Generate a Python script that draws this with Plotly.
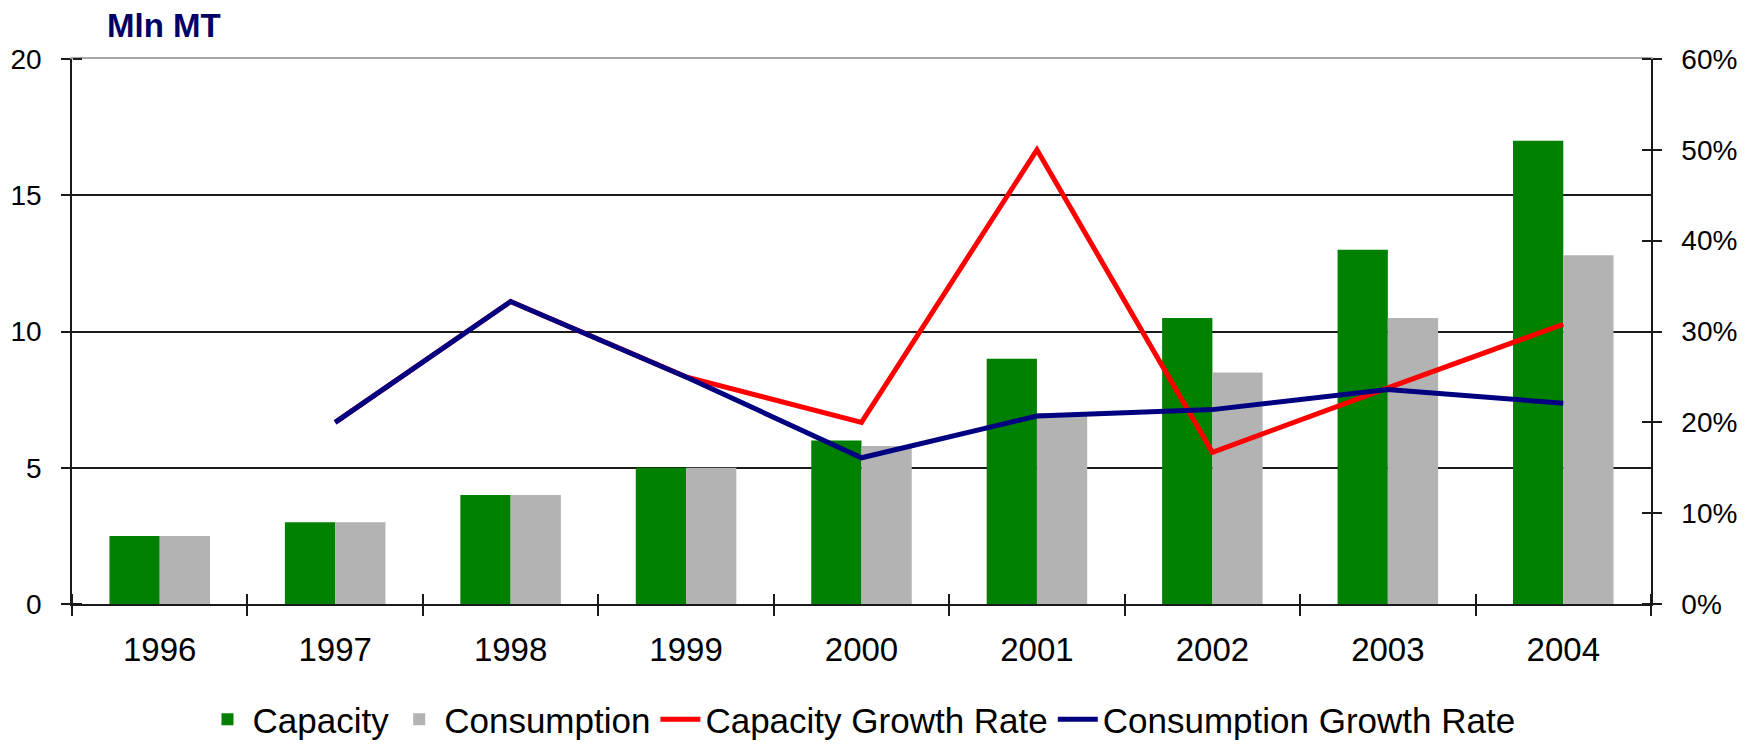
import plotly.graph_objects as go

years = ["1996", "1997", "1998", "1999", "2000", "2001", "2002", "2003", "2004"]
capacity = [2.5, 3, 4, 5, 6, 9, 10.5, 13, 17]
consumption = [2.5, 3, 4, 5, 5.8, 7, 8.5, 10.5, 12.8]
capacity_growth = [None, 0.20, 0.333, 0.25, 0.20, 0.50, 0.167, 0.238, 0.308]
consumption_growth = [None, 0.20, 0.333, 0.25, 0.161, 0.207, 0.214, 0.236, 0.221]
left_ticks = [0, 5, 10, 15, 20]
right_ticks = [0, 0.1, 0.2, 0.3, 0.4, 0.5, 0.6]

FONT = "Liberation Sans, Arial, sans-serif"
DARK = "#1a1a1a"

fig = go.Figure()
fig.add_trace(go.Bar(name="Capacity", x=years, y=capacity, marker_color="#008000",
                     marker_line_width=0, xaxis="x", yaxis="y"))
fig.add_trace(go.Bar(name="Consumption", x=years, y=consumption, marker_color="#b3b3b3",
                     marker_line_width=0, xaxis="x", yaxis="y"))
fig.add_trace(go.Scatter(name="Capacity Growth Rate", x=years, y=capacity_growth,
                         mode="lines", line=dict(color="#ff0000", width=5),
                         xaxis="x", yaxis="y2"))
fig.add_trace(go.Scatter(name="Consumption Growth Rate", x=years, y=consumption_growth,
                         mode="lines", line=dict(color="#000080", width=5),
                         xaxis="x", yaxis="y2"))

# invisible helpers so the tick-only overlay axes get drawn
def helper(xa, ya, yvals):
    fig.add_trace(go.Scatter(x=years, y=yvals, mode="markers", marker=dict(opacity=0),
                             showlegend=False, hoverinfo="skip", xaxis=xa, yaxis=ya))

helper("x2", "y", capacity)
helper("x3", "y", capacity)
helper("x", "y3", capacity)
helper("x", "y4", capacity_growth)

cat_x = dict(type="category", categoryorder="array", categoryarray=years,
             range=[-0.5, 8.5], tickson="boundaries")
tick_style = dict(ticklen=10, tickwidth=1.5, tickcolor=DARK, automargin=False,
                  zeroline=False, showgrid=False)

# the page body adds an 8px offset, so the figure is 8px smaller than the window
fig.update_layout(
    width=1745, height=736,
    margin=dict(l=64, r=102, t=51, b=140, autoexpand=False),
    paper_bgcolor="white", plot_bgcolor="white",
    font=dict(family=FONT, color="black"),
    barmode="group", bargap=0.427, bargroupgap=0,
    xaxis=dict(**cat_x, **tick_style, ticks="outside", showline=True, linecolor=DARK,
               linewidth=1.5, tickfont=dict(size=33, family=FONT),
               ticklabelstandoff=16, anchor="y"),
    # upward-pointing half of the crossing x ticks
    xaxis2=dict(**cat_x, **tick_style, overlaying="x", anchor="free", position=0,
                side="top", ticks="outside", showticklabels=False, showline=False),
    # light top border line
    xaxis3=dict(**cat_x, overlaying="x", anchor="y", side="top", showline=True,
                linecolor="#a6a6a6", linewidth=1.5, ticks="", showticklabels=False,
                showgrid=False, zeroline=False, automargin=False),
    yaxis=dict(range=[0, 20], tickvals=left_ticks, ticks="outside", ticklen=9,
               tickwidth=1.5, tickcolor=DARK, showline=True, linecolor=DARK,
               linewidth=1.5, showgrid=True, gridcolor=DARK, gridwidth=1.5,
               zeroline=False, automargin=False,
               tickfont=dict(size=28, family=FONT), ticklabelstandoff=14),
    # inward half of the crossing left ticks
    yaxis3=dict(overlaying="y", anchor="free", position=0, side="right",
                range=[0, 20], tickvals=left_ticks, ticks="outside", ticklen=9,
                tickwidth=1.5, tickcolor=DARK, showticklabels=False, showline=False,
                showgrid=False, zeroline=False, automargin=False),
    yaxis2=dict(overlaying="y", side="right", anchor="x", range=[0, 0.6],
                tickvals=right_ticks, tickformat=".0%", ticks="outside", ticklen=9,
                tickwidth=1.5, tickcolor=DARK, showline=True, linecolor=DARK,
                linewidth=1.5, showgrid=False, zeroline=False, automargin=False,
                tickfont=dict(size=28, family=FONT), ticklabelstandoff=14),
    # inward half of the crossing right ticks
    yaxis4=dict(overlaying="y", anchor="free", position=1, side="left",
                range=[0, 0.6], tickvals=right_ticks, ticks="outside", ticklen=9,
                tickwidth=1.5, tickcolor=DARK, showticklabels=False, showline=False,
                showgrid=False, zeroline=False, automargin=False),
    legend=dict(orientation="h", x=0.5, xanchor="center", y=-0.212, yanchor="middle",
                font=dict(size=35, family=FONT), traceorder="normal",
                itemwidth=40, bgcolor="rgba(0,0,0,0)"),
    showlegend=True,
)

fig.add_annotation(text="<b>Mln MT</b>", xref="paper", yref="paper", x=0.0209, y=1.0606,
                   xanchor="left", yanchor="middle", showarrow=False,
                   font=dict(size=33, family=FONT, color="#000066"))

fig.write_html("out.html")
